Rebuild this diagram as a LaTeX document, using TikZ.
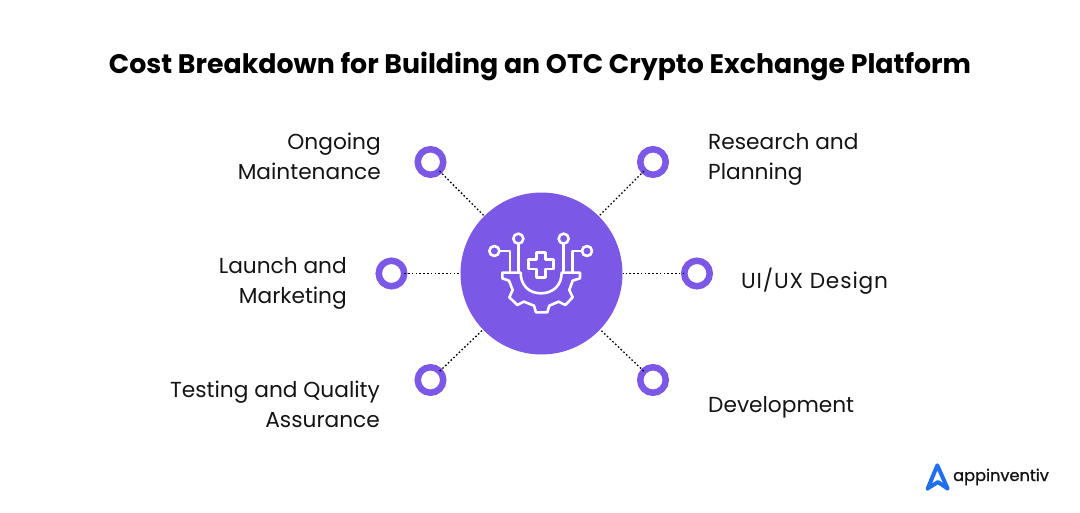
\documentclass[tikz,border=0pt]{standalone}
\usepackage{fontspec}
\setmainfont{Poppins}
\newfontfamily\logofont[FakeBold=1.0]{Poppins}
\definecolor{hubpurple}{HTML}{7B58E6}
\definecolor{logoblue}{HTML}{1F6FF0}
\definecolor{inkblack}{HTML}{141414}
\tikzset{
  ringnode/.style={circle,draw=hubpurple,line width=6.5pt,fill=white,minimum size=25.5pt,inner sep=0pt,outer sep=0pt},
  linkline/.style={draw=black,line width=1.3pt,dash pattern=on 1.6pt off 2.2pt},
  lab/.style={font=\fontsize{21.7}{30}\selectfont,text=inkblack,inner sep=0pt,align=left},
  labr/.style={lab,align=right},
  iconline/.style={draw=white,line width=2.6pt,line join=round},
}
\begin{document}
\begin{tikzpicture}[x=1pt,y=-1pt]
\useasboundingbox (0,0) rectangle (1080,512);
\fill[white] (0,0) rectangle (1080,512);
\node[font=\fontsize{26.8}{32}\selectfont\bfseries,text=black,inner sep=0pt] (title) at (540,66) {Cost Breakdown for Building an OTC Crypto Exchange Platform};
\node[circle,fill=hubpurple,minimum size=162pt,inner sep=0pt,outer sep=0pt] (hub) at (541.5,273.5) {};
\node[ringnode] (r1) at (430.5,162) {};
\node[ringnode] (r2) at (653,162) {};
\node[ringnode] (r3) at (391.5,273.5) {};
\node[ringnode] (r4) at (697,273.5) {};
\node[ringnode] (r5) at (430.5,380) {};
\node[ringnode] (r6) at (653,380) {};
\foreach \a in {r1,r2,r3,r4,r5,r6} \draw[linkline] (\a) -- (hub);
\node[labr,anchor=east] (t1) at (381,156) {Ongoing\\Maintenance};
\node[lab,anchor=west] (t2) at (708,159) {Research and\\Planning};
\node[labr,anchor=east] (t3) at (347,283) {Launch and\\Marketing};
\node[lab,anchor=west] (t4) at (741,281) {\addfontfeature{LetterSpace=4}UI/UX Design};
\node[labr,anchor=east] (t5) at (380,404) {Testing and Quality\\Assurance};
\node[lab,anchor=west] (t6) at (708,407) {Development};
% icon
\begin{scope}[shift={(460,190)},x=0.3333pt,y=-0.3333pt]
\draw[iconline] (127,248) -- (127,265) -- (147,272) -- (158,300) -- (148,322) -- (172,345) -- (192,335) -- (222,347) -- (228,367) -- (262,367) -- (268,347) -- (296,335) -- (316,345) -- (338,322) -- (328,300) -- (338,272) -- (360,265) -- (360,248) -- (305,248) .. controls (305,285) and (280,310) .. (243,310) .. controls (206,310) and (182,285) .. (182,248) -- cycle;
\draw[iconline] (175,160) -- (175,248);
\draw[iconline] (311,160) -- (311,248);
\draw[iconline] (118,183) -- (150,183) -- (150,248);
\draw[iconline] (366,183) -- (337,183) -- (337,248);
\draw[iconline] (175,146) circle[radius=15];
\draw[iconline] (311,146) circle[radius=15];
\draw[iconline] (103,183) circle[radius=15];
\draw[iconline] (381,183) circle[radius=15];
\draw[iconline] (229,187) -- (257,187) -- (257,209) -- (281,209) -- (281,237) -- (257,237) -- (257,262) -- (229,262) -- (229,237) -- (205,237) -- (205,209) -- (229,209) -- cycle;
\end{scope}
% logo
\begin{scope}[shift={(910,450)},x=0.3333pt,y=-0.3333pt]
\draw[logoblue,line width=4pt,line join=round,line cap=round] (53,116) -- (82,46) -- (113,116) -- (84,96) -- (55,114);
\end{scope}
\node[font=\fontsize{16.2}{22}\logofont,text=inkblack,inner sep=0pt,anchor=base west] (logo) at (953,481) {appinventiv};
\end{tikzpicture}
\end{document}
